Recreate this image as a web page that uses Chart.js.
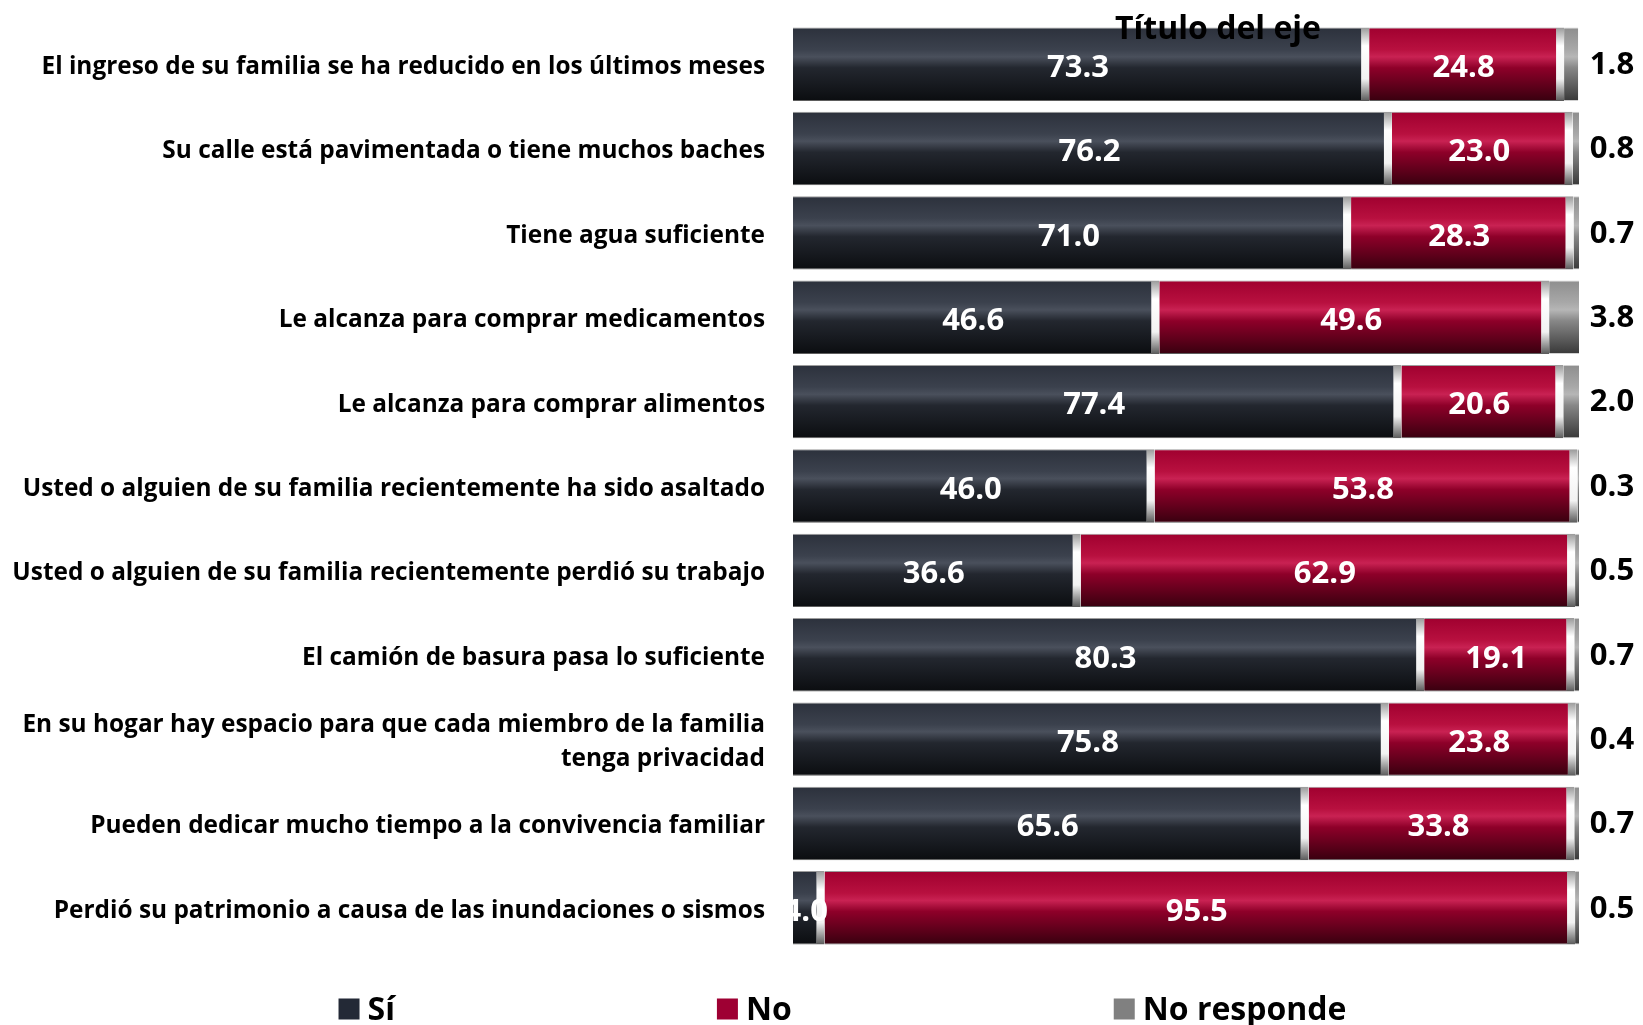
<!DOCTYPE html>
<html>
<head>
<meta charset="utf-8">
<script src="https://cdn.jsdelivr.net/npm/chart.js@4.4.0/dist/chart.umd.min.js"></script>
<style>
  html, body { margin: 0; padding: 0; background: #fff; }
  canvas { display: block; }
</style>
</head>
<body>
<canvas id="chart" width="1643" height="1025"></canvas>
<script>
const categories = [
  'El ingreso de su familia se ha reducido en los últimos meses',
  'Su calle está pavimentada o tiene muchos baches',
  'Tiene agua suficiente',
  'Le alcanza para comprar medicamentos',
  'Le alcanza para comprar alimentos',
  'Usted o alguien de su familia recientemente ha sido asaltado',
  'Usted o alguien de su familia recientemente perdió su trabajo',
  'El camión de basura pasa lo suficiente',
  ['En su hogar hay espacio para que cada miembro de la familia', 'tenga privacidad'],
  'Pueden dedicar mucho tiempo a la convivencia familiar',
  'Perdió su patrimonio a causa de las inundaciones o sismos'
];
const si = [73.3, 76.2, 71.0, 46.6, 77.4, 46.0, 36.6, 80.3, 75.8, 65.6, 4.0];
const no = [24.8, 23.0, 28.3, 49.6, 20.6, 53.8, 62.9, 19.1, 23.8, 33.8, 95.5];
const noResponde = [1.8, 0.8, 0.7, 3.8, 2.0, 0.3, 0.5, 0.7, 0.4, 0.7, 0.5];
const seriesNames = ['Sí', 'No', 'No responde'];
const axisTitle = 'Título del eje';

const FONT = '"Open Sans"';
const BAR_PCT = 0.87;

// glossy vertical gradients, one per series
const gloss = {
  si: [[0, '#2c313c'], [0.3, '#3b414d'], [0.4, '#4a505c'], [0.55, '#23272f'], [1, '#0b0d10']],
  no: [[0, '#a0002f'], [0.3, '#b8103f'], [0.4, '#c92253'], [0.55, '#8e0029'], [1, '#38000f']],
  nr: [[0, '#8e8e8e'], [0.3, '#a8a8a8'], [0.4, '#b6b6b6'], [0.55, '#878787'], [1, '#383838']],
  sep: [[0, '#9a9a9a'], [0.25, '#ffffff'], [0.7, '#f2f2f2'], [1, '#5a5a5a']]
};
const flat = { si: '#232936', no: '#9e0033', nr: '#808080', sep: '#ffffff' };

function gradientFor(key) {
  return (ctx) => {
    const chart = ctx.chart;
    const y = chart.scales.y;
    if (ctx.dataIndex === undefined || !y) return flat[key];
    const c = y.getPixelForValue(ctx.dataIndex);
    if (!isFinite(c)) return flat[key];
    const half = (y.height / categories.length) * BAR_PCT / 2;
    const g = chart.ctx.createLinearGradient(0, c - half, 0, c + half);
    gloss[key].forEach(([o, col]) => g.addColorStop(o, col));
    return g;
  };
}

const valueLabels = {
  id: 'valueLabels',
  afterDatasetsDraw(chart) {
    const { ctx, chartArea } = chart;
    ctx.save();
    ctx.font = `bold 31px ${FONT}`;
    ctx.textAlign = 'center';
    ctx.textBaseline = 'middle';
    chart.data.datasets.forEach((ds, di) => {
      chart.getDatasetMeta(di).data.forEach((el, i) => {
        const txt = ds.data[i].toFixed(1);
        if (di < 2) {
          ctx.fillStyle = '#ffffff';
          ctx.fillText(txt, (el.x + el.base) / 2 - 3, el.y + 4);
        } else {
          ctx.fillStyle = '#000000';
          ctx.fillText(txt, chartArea.right + 33, el.y + 1);
        }
      });
    });
    // axis title sits over the first bar
    ctx.font = `bold 32px ${FONT}`;
    ctx.textBaseline = 'alphabetic';
    ctx.fillStyle = '#000000';
    ctx.fillText(axisTitle, (chartArea.left + chart.width) / 2, chartArea.top + 17);
    ctx.restore();
  }
};

const bottomLegend = {
  id: 'bottomLegend',
  afterDraw(chart) {
    const { ctx } = chart;
    const box = 21, gap = 8, spacing = 322;
    ctx.save();
    ctx.font = `bold 32px ${FONT}`;
    ctx.textBaseline = 'middle';
    ctx.textAlign = 'left';
    const widths = seriesNames.map(t => box + gap + ctx.measureText(t).width);
    const total = widths.reduce((a, b) => a + b, 0) + spacing * (widths.length - 1);
    let x = chart.width / 2 - total / 2 + 21;
    const yc = chart.height - 16;
    seriesNames.forEach((t, i) => {
      ctx.fillStyle = flat[['si', 'no', 'nr'][i]];
      ctx.fillRect(x, yc - box / 2, box, box);
      ctx.fillStyle = '#000000';
      ctx.fillText(t, x + box + gap, yc + 2);
      x += widths[i] + spacing;
    });
    ctx.restore();
  }
};

const sepBorder = { top: 1, bottom: 1, left: 0, right: 8 };

new Chart(document.getElementById('chart'), {
  type: 'bar',
  data: {
    labels: categories,
    datasets: [
      { label: seriesNames[0], data: si, backgroundColor: gradientFor('si'), borderColor: gradientFor('sep'), borderWidth: sepBorder, borderSkipped: false },
      { label: seriesNames[1], data: no, backgroundColor: gradientFor('no'), borderColor: gradientFor('sep'), borderWidth: sepBorder, borderSkipped: false },
      { label: seriesNames[2], data: noResponde, backgroundColor: gradientFor('nr'), borderColor: '#d0d0d0', borderWidth: { top: 1, bottom: 1, left: 0, right: 0 }, borderSkipped: false }
    ]
  },
  options: {
    indexAxis: 'y',
    responsive: false,
    animation: false,
    barPercentage: BAR_PCT,
    categoryPercentage: 1.0,
    layout: { padding: { top: 22, bottom: 75, left: 0, right: 64 } },
    plugins: { legend: { display: false }, tooltip: { enabled: false } },
    scales: {
      x: { stacked: true, min: 0, max: 100, display: false },
      y: {
        stacked: true,
        grid: { display: false, drawTicks: false },
        border: { display: false },
        ticks: { color: '#000', padding: 28, labelOffset: 3, font: { family: FONT, size: 24.4, weight: 'bold', lineHeight: 1.4 } },
        afterFit(scale) {
          scale.width = 793;
          scale.paddingTop = 0;
          scale.paddingBottom = 0;
        }
      }
    }
  },
  plugins: [valueLabels, bottomLegend]
});
</script>
</body>
</html>
